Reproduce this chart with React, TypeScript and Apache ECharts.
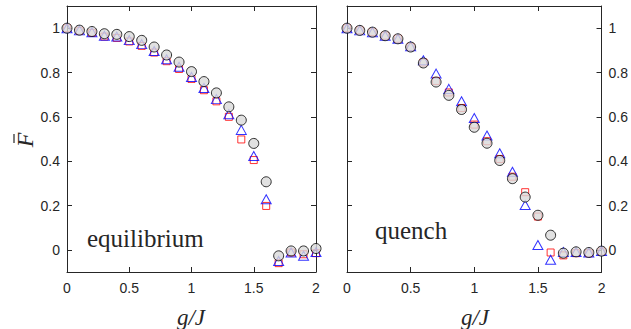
import React, { useEffect, useRef } from "react";
import * as echarts from "echarts";

const gJ = [0, 0.1, 0.2, 0.3, 0.4, 0.5, 0.6, 0.7, 0.8, 0.9, 1.0, 1.1, 1.2, 1.3, 1.4, 1.5, 1.6, 1.7, 1.8, 1.9, 2.0];

// equilibrium panel
const eqCircle = [1.0, 0.991, 0.985, 0.975, 0.972, 0.962, 0.945, 0.915, 0.879, 0.847, 0.804, 0.759, 0.708, 0.645, 0.585, 0.48, 0.307, -0.027, -0.005, -0.005, 0.006];
const eqTriangle = [1.0, 0.99, 0.982, 0.966, 0.962, 0.946, 0.928, 0.897, 0.86, 0.826, 0.78, 0.73, 0.68, 0.612, 0.541, 0.423, 0.228, -0.05, -0.012, -0.027, -0.01];
const eqSquare = [1.0, 0.988, 0.979, 0.962, 0.956, 0.94, 0.92, 0.89, 0.851, 0.816, 0.771, 0.72, 0.67, 0.6, 0.498, 0.405, 0.198, -0.06, -0.012, -0.02, -0.015];

// quench panel
const qCircle = [1.0, 0.99, 0.982, 0.966, 0.952, 0.915, 0.843, 0.757, 0.697, 0.633, 0.553, 0.481, 0.403, 0.321, 0.238, 0.156, 0.066, -0.015, -0.009, -0.012, -0.006];
const qTriangle = [1.0, 0.99, 0.982, 0.966, 0.952, 0.918, 0.855, 0.795, 0.726, 0.67, 0.595, 0.516, 0.436, 0.352, 0.202, 0.022, -0.045, -0.01, -0.01, -0.012, -0.005];
const qSquare = [1.0, 0.99, 0.982, 0.966, 0.952, 0.915, 0.845, 0.762, 0.71, 0.64, 0.565, 0.49, 0.41, 0.33, 0.26, 0.15, -0.012, -0.025, -0.015, -0.015, -0.008];

const yTicks = [0, 0.2, 0.4, 0.6, 0.8, 1];
const xTicks = [0, 0.5, 1, 1.5, 2];
const panelLabels = ["equilibrium", "quench"];

const AX = "#262626";

function pairs(ys: number[]) {
  return gJ.map((x, i) => [x, ys[i]]);
}

export default function App() {
  const ref = useRef<HTMLDivElement>(null);
  useEffect(() => {
    if (!ref.current) return;
    const chart = echarts.init(ref.current, null, { renderer: "svg" });
    const grids = [
      { left: 67, top: 6, width: 249, height: 266 },
      { left: 347, top: 6, width: 257, height: 266 },
    ];
    const labelStyle = { color: AX, fontSize: 14, fontFamily: "Liberation Sans, Arial, sans-serif" };
    const xAxis: any[] = [];
    const yAxis: any[] = [];
    [0, 1].forEach((g) => {
      ["bottom", "top"].forEach((pos) => {
        xAxis.push({
          type: "value",
          gridIndex: g,
          position: pos,
          min: 0,
          max: 2,
          interval: 0.5,
          axisLine: { show: true, onZero: false, lineStyle: { color: AX, width: 1 } },
          axisTick: { show: true, inside: true, length: 5, lineStyle: { color: AX } },
          axisLabel: { show: pos === "bottom", margin: 9, ...labelStyle, customValues: xTicks },
          splitLine: { show: false },
        });
      });
      const labelSide = g === 0 ? "left" : "right";
      ["left", "right"].forEach((pos) => {
        yAxis.push({
          type: "value",
          gridIndex: g,
          position: pos,
          min: -0.1,
          max: 1.1,
          axisLine: { show: true, onZero: false, lineStyle: { color: AX, width: 1 } },
          axisTick: { show: true, inside: true, length: 5, lineStyle: { color: AX }, customValues: yTicks },
          axisLabel: { show: pos === labelSide, margin: 7, ...labelStyle, customValues: yTicks },
          splitLine: { show: false },
        });
      });
    });

    const mk = (g: number, ys: number[], kind: string) => {
      const base: any = {
        type: "scatter",
        xAxisIndex: g * 2,
        yAxisIndex: g * 2,
        data: pairs(ys),
        silent: true,
      };
      if (kind === "sq") {
        base.symbol = "rect";
        base.symbolSize = 7;
        base.itemStyle = { color: "rgba(0,0,0,0)", borderColor: "#ff0000", borderWidth: 1 };
        base.z = 2;
      } else if (kind === "tri") {
        base.symbol = "triangle";
        base.symbolSize = [10, 9];
        base.itemStyle = { color: "rgba(0,0,0,0)", borderColor: "#0000ff", borderWidth: 1 };
        base.z = 3;
      } else {
        base.symbol = "circle";
        base.symbolSize = 10;
        base.itemStyle = { color: "#d9d9d9", borderColor: "#000000", borderWidth: 1 };
        base.z = 4;
      }
      return base;
    };

    const serif = "'Liberation Serif', 'DejaVu Serif', serif";
    chart.setOption({
      animation: false,
      backgroundColor: "#ffffff",
      grid: grids,
      xAxis,
      yAxis,
      series: [
        mk(0, eqSquare, "sq"),
        mk(0, eqTriangle, "tri"),
        mk(0, eqCircle, "c"),
        mk(1, qSquare, "sq"),
        mk(1, qTriangle, "tri"),
        mk(1, qCircle, "c"),
      ],
      graphic: [
        {
          type: "text",
          left: 87,
          top: 226,
          style: { text: panelLabels[0], font: `25px ${serif}`, fill: "#262626" },
        },
        {
          type: "text",
          left: 375,
          top: 218,
          style: { text: panelLabels[1], font: `25px ${serif}`, fill: "#262626" },
        },
        {
          type: "text",
          x: 191,
          y: 317,
          style: { text: "g/J", font: `italic 23px ${serif}`, fill: "#262626", textAlign: "center", textVerticalAlign: "middle" },
        },
        {
          type: "text",
          x: 475,
          y: 317,
          style: { text: "g/J", font: `italic 23px ${serif}`, fill: "#262626", textAlign: "center", textVerticalAlign: "middle" },
        },
        {
          type: "group",
          x: 25,
          y: 140,
          rotation: Math.PI / 2,
          children: [
            {
              type: "text",
              x: 0,
              y: 0,
              style: { text: "F", font: `italic 24px ${serif}`, fill: "#262626", textAlign: "center", textVerticalAlign: "middle" },
            },
            {
              type: "line",
              shape: { x1: -3, y1: -11, x2: 6, y2: -11 },
              style: { stroke: "#262626", lineWidth: 1.2 },
            },
          ],
        },
      ],
    });
    return () => chart.dispose();
  }, []);
  return <div ref={ref} style={{ position: "fixed", left: 0, top: 0, width: 631, height: 329 }} />;
}
